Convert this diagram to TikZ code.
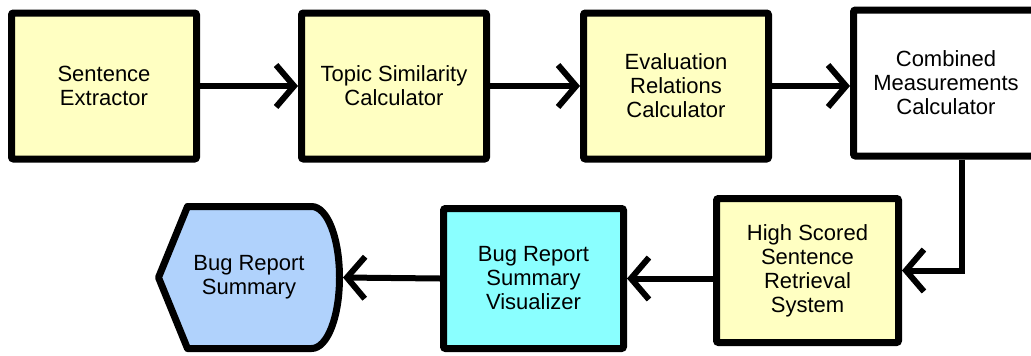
\documentclass[tikz,border=0pt]{standalone}
\usepackage{fontspec}
\setmainfont{Liberation Sans}
\usepackage{tikz}
\usetikzlibrary{arrows.meta}
\usetikzlibrary{backgrounds}
\definecolor{boxyellow}{RGB}{255,255,194}
\definecolor{boxcyan}{RGB}{138,255,255}
\definecolor{boxblue}{RGB}{176,210,252}
\tikzset{
  blk/.style={draw=black, line width=7pt, rounded corners=2pt, minimum width=185pt, minimum height=146pt,
    inner sep=0pt, align=center, font=\fontsize{22}{24}\selectfont},
  flow/.style={line width=6pt, -{Straight Barb[length=18pt,width=42pt]}}
}
\begin{document}
\begin{tikzpicture}[x=1pt,y=1pt]
\useasboundingbox (0,0) rectangle (1031,-356);
\node[blk, fill=boxyellow] (se) at (104,-86) {Sentence\\Extractor};
\node[blk, fill=boxyellow] (tsc) at (394,-86) {Topic Similarity\\Calculator};
\node[blk, fill=boxyellow] (erc) at (676,-86) {Evaluation\\Relations\\Calculator};
\node[blk, fill=white] (cmc) at (946,-83) {Combined\\Measurements\\Calculator};
\node[blk, fill=boxyellow, minimum width=182pt, minimum height=144pt] (hss) at (807.5,-270.5) {High Scored\\Sentence\\Retrieval\\System};
\node[blk, fill=boxcyan, minimum width=180pt, minimum height=140pt] (vis) at (533.5,-278.5) {Bug Report\\Summary\\Visualizer};
\node[minimum width=181pt, minimum height=142pt, outer sep=0pt, inner sep=0pt, align=center,
  font=\fontsize{22}{24}\selectfont] (sum) at (249,-277.5) {Bug Report\\Summary};
\begin{scope}[on background layer]
\draw[line width=7pt, line join=round, fill=boxblue] (sum.west) -- ([xshift=29pt]sum.north west)
  -- ([xshift=-28pt]sum.north east) .. controls ([xshift=-12pt]sum.north east) and ([yshift=39pt]sum.east) .. (sum.east)
  .. controls ([yshift=-39pt]sum.east) and ([xshift=-12pt]sum.south east) .. ([xshift=-28pt]sum.south east)
  -- ([xshift=29pt]sum.south west) -- cycle;
\end{scope}
\foreach \a/\b in {se/tsc,tsc/erc,erc/cmc} {
  \draw[flow] (\a.east) -- (\a.east -| \b.west);
}
\draw[flow] ([xshift=16pt]cmc.south) |- (hss.east);
\draw[flow] (hss.west |- vis.east) -- (vis.east);
\draw[flow] (vis.west) -- ([xshift=3.5pt]sum.east);
\end{tikzpicture}
\end{document}
